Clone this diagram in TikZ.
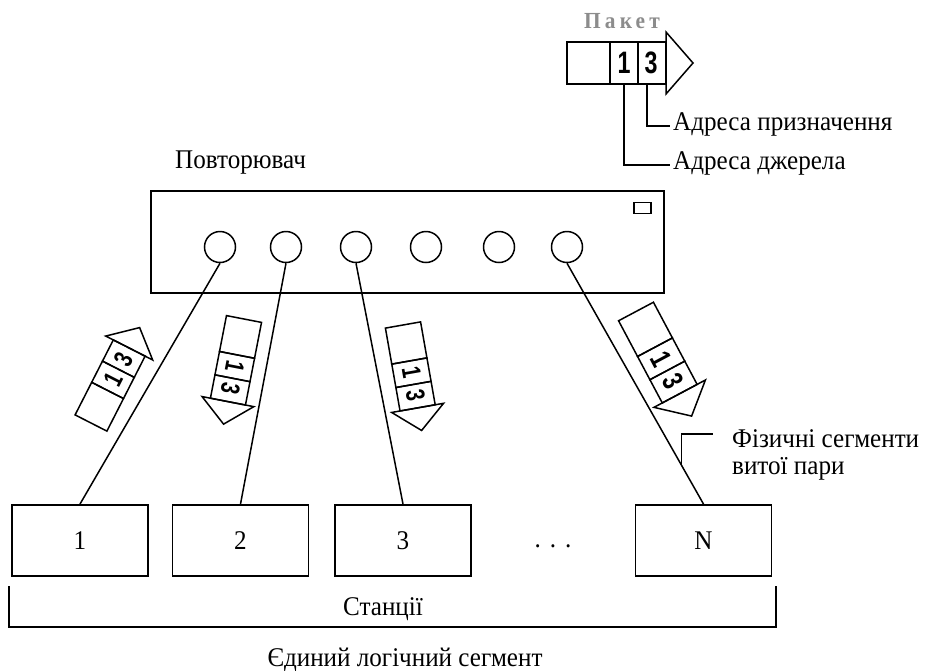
\documentclass[tikz,border=0pt]{standalone}
\usepackage{fontspec}
\setmainfont{Liberation Serif}[FakeStretch=0.93]
\newfontfamily\digitfont[FakeStretch=0.75]{Liberation Sans}
\usetikzlibrary{calc}

\tikzset{
  lbl/.style={font=\fontsize{27}{30}\selectfont, inner sep=0pt},
  box/.style={draw, line width=1.9pt},
  wire/.style={draw, line width=1.5pt},
  pkt/.style={draw, line width=1.5pt, line join=miter},
  digit/.style={font=\digitfont\bfseries\fontsize{31}{31}\selectfont, inner sep=0pt, transform shape},
  stn/.style={box, lbl, minimum width=136pt, minimum height=71pt},
  port/.style={circle, draw, line width=1.5pt, minimum size=31pt, inner sep=0pt},
  packet/.pic={
    % three cells and an arrow head; origin at the middle of the tail edge
    \draw[pkt] (0,-21) rectangle (43,21);
    \draw[pkt] (43,-21) rectangle (71,21);
    \draw[pkt] (71,-21) rectangle (99,21);
    \draw[pkt] (99,-31) -- (126,0) -- (99,31) -- cycle;
    \node[digit] (-one) at (57,0) {1};
    \node[digit] (-three) at (84,0) {3};
    \coordinate (-b1) at (57,21);
    \coordinate (-b3) at (80,21);
  }
}

\begin{document}
\begin{tikzpicture}[x=1pt, y=-1pt]
\useasboundingbox (0,0) rectangle (926,670);
\fill[white] (0,0) rectangle (926,670);

% packet legend
\node[font=\fontsize{23}{24}\selectfont\bfseries\addfontfeature{LetterSpace=18}, text=black!45, inner sep=0pt, anchor=base] (pk) at (622,28) {Пакет};
\pic (top) at (567,63) {packet};
\node[lbl, anchor=base west] (dst) at (673,130) {Адреса призначення};
\node[lbl, anchor=base west] (src) at (673,169) {Адреса джерела};
\coordinate (dstl) at (670,126);
\coordinate (srcl) at (670,165);
\draw[line width=1.5pt] (top-b3) |- (dstl);
\draw[line width=1.5pt] (top-b1) |- (srcl);

% repeater
\node[lbl, anchor=base west] (reptxt) at (175,168) {Повторювач};
\node[box, minimum width=513pt, minimum height=102pt, inner sep=0pt] (rep) at (407.5,242) {};
\node[draw, line width=1.5pt, minimum width=17pt, minimum height=11pt, inner sep=0pt] (led) at (642.5,208) {};
\node[port] (c1) at (220,247) {};
\node[port] (c2) at (286,247) {};
\node[port] (c3) at (356,247) {};
\node[port] (c4) at (426,247) {};
\node[port] (c5) at (499,247) {};
\node[port] (c6) at (567,247) {};

% stations
\node[stn] (s1) at (80,540.5) {1};
\node[stn] (s2) at (240.5,540.5) {2};
\node[stn] (s3) at (403,540.5) {3};
\node[stn] (s4) at (703.5,540.5) {N};
\node[lbl, anchor=base] (dots) at (553,547) {.\kern9pt.\kern9pt.};

% twisted-pair segments
\draw[wire] (c1.south) -- (s1.north);
\draw[wire] (c2.south) -- (s2.north);
\draw[wire] (c3.south) -- (s3.north);
\draw[wire] (c6.south) -- (s4.north);

% packets travelling along the segments
\pic[shift={(91,423)}, rotate=63, scale=0.85] (pa) {packet};
\pic[shift={(244,319)}, rotate=-101, scale=0.85] (pb) {packet};
\pic[shift={(403,325)}, rotate=-80, scale=0.85] (pc) {packet};
\pic[shift={(636,311.5)}, rotate=-62, scale=0.94] (pd) {packet};

% segment label
\coordinate (w6) at ($(c6.south)!0.84!(s4.north)$);
\coordinate (fsl) at (713,434);
\draw[line width=1.5pt] (w6) |- (fsl);
\node[lbl, anchor=base west] (fs1) at (732,447) {Фізичні сегменти};
\node[lbl, anchor=base west] (fs2) at (732,474) {витої пари};

% stations bracket
\draw[line width=1.9pt] (9,586) -- (9,627) -- (776,627) -- (776,586);
\node[lbl, anchor=base] (st) at (383,615) {Станції};
\node[lbl, anchor=base] (seg) at (405,666) {Єдиний логічний сегмент};
\end{tikzpicture}
\end{document}
